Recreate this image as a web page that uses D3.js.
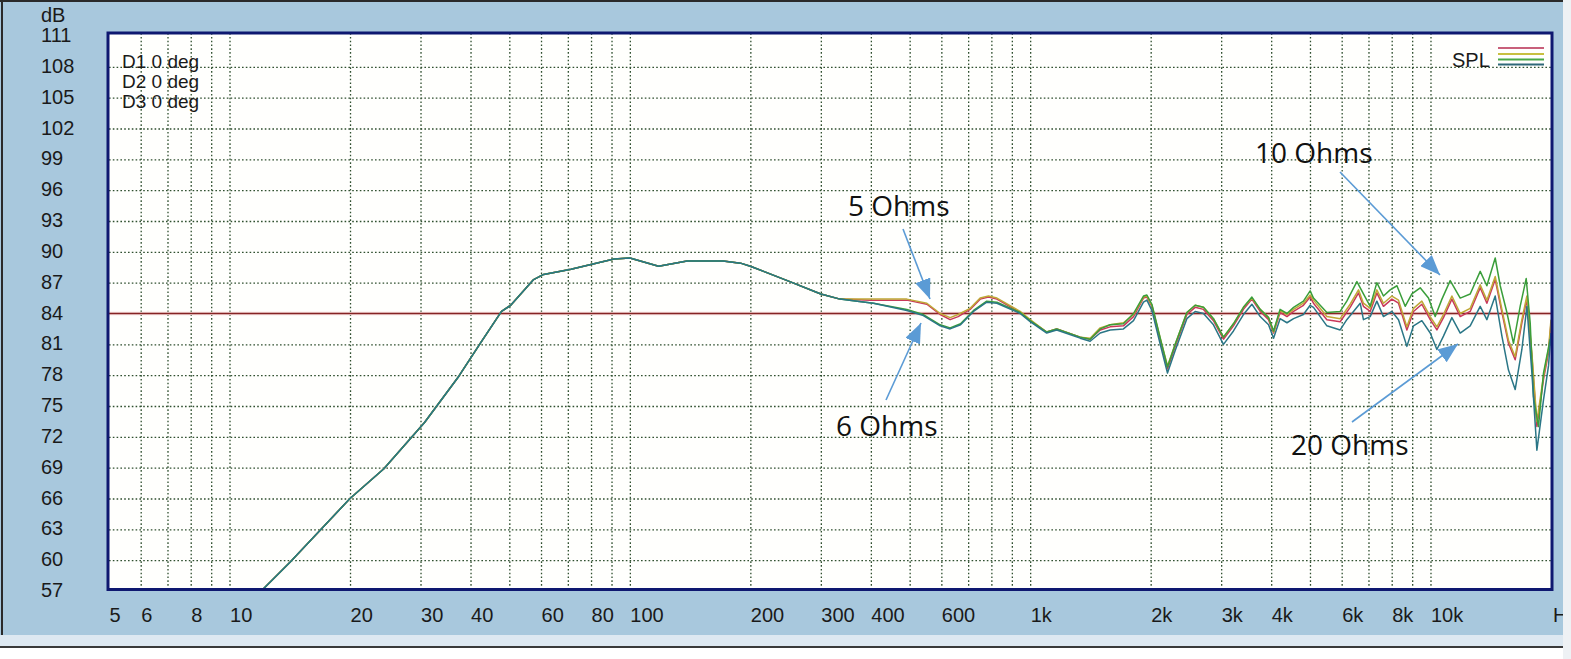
<!DOCTYPE html>
<html><head><meta charset="utf-8">
<script src="https://cdn.jsdelivr.net/npm/d3@7/dist/d3.min.js"></script>
<style>
html,body{margin:0;padding:0;background:#fff;}
svg{display:block;}
</style></head>
<body>
<svg id="c" width="1571" height="659"></svg>
<script>
// ---------- data ----------
const yTicks = [57,60,63,66,69,72,75,78,81,84,87,90,93,96,99,102,105,108,111];
const xGrid = [6,7,8,9,10,20,30,40,50,60,70,80,90,100,200,300,400,500,600,700,800,900,1000,2000,3000,4000,5000,6000,7000,8000,9000,10000];
const xTickValues = [5,6,8,10,20,30,40,60,80,100,200,300,400,600,1000,2000,3000,4000,6000,8000,10000];
const xTickLabels = ["5","6","8","10","20","30","40","60","80","100","200","300","400","600","1k","2k","3k","4k","6k","8k","10k"];
const refLevel = 84;

// common low-frequency part (all curves overlap)
const lowFreq = [5,12,14.2,20,24.3,30.7,37.4,42.3,47.8,50.4,57.5,60.9,71.3,91.3,100,118,139,171,189,200,251,300];
const lowDb   = [57,57,59.85,66.0,68.9,73.4,77.9,81.1,84.2,84.8,87.3,87.8,88.3,89.3,89.4,88.6,89.1,89.1,88.9,88.6,87.1,85.9];

// mid band
const midFreqUpper = [335,400,492,552,596,631,661,708,750,787,826,944,1000,1100,1165,1333];
const midYellow = [85.4,85.4,85.4,85.0,84.0,83.6,83.9,84.5,85.5,85.7,85.5,84.2,83.4,82.2,82.5,81.7];
const midRed    = [85.4,85.3,85.3,84.9,83.9,83.4,83.7,84.4,85.4,85.6,85.4,84.1,83.3,82.2,82.5,81.7];
const midFreqLower = [335,370,406,492,541,596,631,670,722,779,826,944,1000,1100,1165,1333];
const midTeal  = [85.4,85.2,85.0,84.3,83.8,82.8,82.5,82.9,84.2,85.1,85.0,84.0,83.2,82.1,82.4,81.6];
const midGreen = [85.4,85.2,85.0,84.4,83.9,82.9,82.6,83.0,84.3,85.2,85.1,84.1,83.3,82.2,82.5,81.7];

// upper-mid band
const umFreq = [1412,1496,1584,1710,1812,1919,1957,2014,2113,2203,2303,2463,2583,2710,2870,3040,3220,3410,3580,3755,3940,4055,4210,4380,4550,4815,5005];
const umGreen  = [81.5,82.5,82.9,83.0,84.0,85.7,85.8,84.9,81.6,78.8,81.0,84.1,84.8,84.6,83.5,81.7,83.0,84.6,85.6,84.4,83.6,82.3,84.4,84.0,84.6,85.2,86.2];
const umRed    = [81.5,82.4,82.7,82.8,83.7,85.5,85.6,84.7,81.4,78.6,80.8,83.9,84.6,84.4,83.3,81.5,82.8,84.4,85.4,84.2,83.4,82.1,84.1,83.7,84.2,84.8,85.6];
const umYellow = [81.6,82.6,82.9,83.1,83.9,85.6,85.7,84.8,81.6,78.9,81.0,84.1,84.8,84.6,83.5,81.7,83.0,84.6,85.5,84.4,83.6,82.2,84.3,83.9,84.4,85.0,85.8];
const umTeal   = [81.3,82.1,82.4,82.5,83.3,85.1,85.3,84.3,81.0,78.2,80.4,83.5,84.2,84.0,82.9,81.0,82.3,83.9,84.9,83.7,82.9,81.6,83.5,83.1,83.5,83.9,84.8];

// high band
const hfGreenFreq = [5102,5510,5948,6180,6550,6800,7070,7345,7630,7930,8245,8645,8985,9425,9885,10275,10680,11200,11865,12565,13310,13830,14510,14935,15520,16115,16750,17340,17745,18085,18610,19155,19905];
const hfGreen = [85.5,84.1,84.2,85.2,87.1,85.9,84.7,87.0,85.7,86.3,86.7,84.7,85.9,86.5,85.5,83.7,85.4,87.2,85.5,85.9,88.1,86.7,89.4,86.7,84.1,81.1,84.7,87.4,83.1,75.9,73.0,78.2,81.5];
const hfRedFreq = [5102,5510,5948,6300,6610,6800,7070,7345,7630,8010,8320,8730,9070,9515,9985,10375,10775,11310,11865,12565,13310,13830,14510,15080,15660,16275,16915,17410,17920,18440,19155,19715,20000];
const hfRed    = [85.0,83.4,83.2,84.6,86.0,84.7,84.2,86.0,84.7,85.4,85.0,82.4,84.2,84.9,83.4,82.4,83.6,85.4,83.7,84.2,86.5,85.0,87.3,84.1,81.1,79.5,83.1,85.4,79.8,73.0,77.6,80.2,83.1];
const hfYellow = [85.3,83.7,83.5,84.9,86.3,85.0,84.5,86.3,85.0,85.7,85.3,82.7,84.5,85.2,83.7,82.7,83.9,85.7,84.0,84.5,86.8,85.3,87.6,84.4,81.4,79.8,83.4,85.7,80.1,73.5,77.9,80.5,83.4];
const hfTealFreq = [5102,5510,5948,6180,6675,6800,7070,7345,7630,8010,8320,8730,9070,9515,9985,10375,10775,11310,11865,12565,13310,13830,14510,15080,15660,16275,16915,17410,17920,18440,19155,19715,20000];
const hfTeal = [84.6,82.8,82.4,83.4,85.0,83.4,83.7,85.2,83.7,84.2,83.4,80.8,82.8,83.3,82.1,80.5,81.8,83.6,82.1,82.8,84.7,83.4,85.7,81.8,78.5,76.6,80.5,84.7,78.2,70.7,75.6,78.9,82.1];

const legendColors = ["#c8607a","#c8c040","#48a848","#2e6878"];
const noteLabels = ["5 Ohms","6 Ohms","10 Ohms","20 Ohms"];

// ---------- helpers ----------
function zip(f, d){ return f.map((v,i)=>({f:v, db:d[i]})); }
const series = [
  {color:"#c8385a", pts:[...zip(lowFreq,lowDb), ...zip(midFreqUpper,midRed), ...zip(umFreq,umRed), ...zip(hfRedFreq,hfRed)]},
  {color:"#bfa836", pts:[...zip(lowFreq,lowDb), ...zip(midFreqUpper,midYellow), ...zip(umFreq,umYellow), ...zip(hfRedFreq,hfYellow)]},
  {color:"#3a9e3a", pts:[...zip(lowFreq,lowDb), ...zip(midFreqLower,midGreen), ...zip(umFreq,umGreen), ...zip(hfGreenFreq,hfGreen)]},
  {color:"#2a7686", pts:[...zip(lowFreq,lowDb), ...zip(midFreqLower,midTeal), ...zip(umFreq,umTeal), ...zip(hfTealFreq,hfTeal)]}
];

// ---------- layout ----------
const svg = d3.select("#c");
const W = 1571, H = 659;
const PL = 109, PR = 1551, PT = 33, PB = 589.5;
const x = d3.scaleLog().domain([5,20000]).range([PL, PR]);
const y = d3.scaleLinear().domain([57,111]).range([591, 36]);

// background panel
svg.append("rect").attr("x",0).attr("y",0).attr("width",W).attr("height",H).attr("fill","#ffffff");
svg.append("rect").attr("x",0).attr("y",0).attr("width",1563).attr("height",635).attr("fill","#a8c8dd");
svg.append("rect").attr("x",0).attr("y",635).attr("width",1563).attr("height",11).attr("fill","#dde8f1");
svg.append("rect").attr("x",0).attr("y",646).attr("width",1563).attr("height",2).attr("fill","#3a3a3a");
svg.append("rect").attr("x",0).attr("y",0).attr("width",1563).attr("height",2).attr("fill","#2a2a2a");
svg.append("rect").attr("x",1).attr("y",0).attr("width",2).attr("height",635).attr("fill","#2a2a2a");

// plot area
svg.append("rect").attr("x",PL).attr("y",PT).attr("width",PR-PL).attr("height",PB-PT).attr("fill","#fffffd");

svg.append("defs").append("clipPath").attr("id","clip")
  .append("rect").attr("x",PL).attr("y",PT).attr("width",PR-PL).attr("height",PB-PT);

const grid = svg.append("g");
const gridColor = "#2f4f2f";
const yGridAxis = d3.axisLeft(y).tickValues(yTicks.filter(v=>v>57 && v<111)).tickSize(-(PR-PL)).tickFormat("");
const gy = grid.append("g").attr("transform",`translate(${PL},0)`).call(yGridAxis);
gy.select(".domain").remove();
gy.selectAll("line").attr("stroke",gridColor).attr("stroke-width",1.3).attr("stroke-dasharray","1.6,2.2");
const xGridAxis = d3.axisBottom(x).tickValues(xGrid).tickSize(-(PB-PT)).tickFormat("");
const gx = grid.append("g").attr("transform",`translate(0,${PB})`).call(xGridAxis);
gx.select(".domain").remove();
gx.selectAll("line").attr("stroke",gridColor).attr("stroke-width",1.3).attr("stroke-dasharray","1.6,2.2");

// reference line
svg.append("line").attr("x1",PL).attr("x2",PR).attr("y1",y(refLevel)).attr("y2",y(refLevel))
  .attr("stroke","#f6dcdc").attr("stroke-width",3.5);
svg.append("line").attr("x1",PL).attr("x2",PR).attr("y1",y(refLevel)).attr("y2",y(refLevel))
  .attr("stroke","#862424").attr("stroke-width",1.5);

// curves
const line = d3.line().x(d=>x(d.f)).y(d=>y(d.db));
const cg = svg.append("g").attr("clip-path","url(#clip)");
series.forEach(s=>{
  cg.append("path").datum(s.pts).attr("d",line).attr("fill","none")
    .attr("stroke",s.color).attr("stroke-width",1.5).attr("stroke-linejoin","round");
});

// border
svg.append("rect").attr("x",PL-1).attr("y",PT).attr("width",PR-PL+2).attr("height",PB-PT)
  .attr("fill","none").attr("stroke","#0e1870").attr("stroke-width",3);

// axis labels
const axisFont = "'Liberation Sans', Arial, sans-serif";
const yAx = d3.axisLeft(y).tickValues(yTicks).tickSize(0).tickFormat(d=>String(d));
const gyl = svg.append("g").call(yAx);
gyl.select(".domain").remove();
gyl.selectAll("text").attr("x",41).attr("dy",null).attr("y",5.5).attr("text-anchor","start")
  .attr("font-family",axisFont).attr("font-size",20).attr("fill","#1a1a1a");
const xAx = d3.axisBottom(x).tickValues(xTickValues).tickSize(0).tickFormat((d,i)=>xTickLabels[i]);
const gxl = svg.append("g").call(xAx);
gxl.select(".domain").remove();
gxl.selectAll("text").attr("y",622).attr("dy",null).attr("x",0).attr("text-anchor","start")
  .attr("font-family",axisFont).attr("font-size",20).attr("fill","#1a1a1a");

svg.append("text").attr("x",41).attr("y",22).text("dB").attr("font-family",axisFont).attr("font-size",20).attr("fill","#1a1a1a");
svg.append("text").attr("x",1553).attr("y",622).text("H").attr("font-family",axisFont).attr("font-size",20).attr("fill","#1a1a1a");
// right window strip
svg.append("rect").attr("x",1563).attr("y",0).attr("width",8).attr("height",H).attr("fill","#eef1f4");

// data set labels
["D1 0 deg","D2 0 deg","D3 0 deg"].forEach((t,i)=>{
  svg.append("text").attr("x",122).attr("y",68+i*20).text(t)
    .attr("font-family",axisFont).attr("font-size",19).attr("fill","#1a1a1a");
});

// legend
svg.append("text").attr("x",1452).attr("y",67).text("SPL")
  .attr("font-family",axisFont).attr("font-size",20).attr("fill","#1a1a1a");
const legY = [48,54,59.5,64.5];
legendColors.forEach((c,i)=>{
  svg.append("line").attr("x1",1498).attr("x2",1544).attr("y1",legY[i]).attr("y2",legY[i])
    .attr("stroke",c).attr("stroke-width",2);
});

// annotations
const arrowColor = "#5b9bd5";
svg.select("defs").append("marker").attr("id","ah").attr("viewBox","0 0 20 16")
  .attr("refX",20).attr("refY",8).attr("markerWidth",20).attr("markerHeight",16)
  .attr("markerUnits","userSpaceOnUse").attr("orient","auto")
  .append("path").attr("d","M0,0 L20,8 L0,16 Z").attr("fill",arrowColor);

const notes = [
  {t:noteLabels[0], tx:848, ty:216, x1:903, y1:229, x2:930, y2:299},
  {t:noteLabels[1], tx:836, ty:436, x1:886, y1:400, x2:921, y2:323},
  {t:noteLabels[2], tx:1255, ty:163, x1:1340, y1:172, x2:1440, y2:275},
  {t:noteLabels[3], tx:1291, ty:455, x1:1352, y1:422, x2:1458, y2:344}
];
notes.forEach(n=>{
  svg.append("line").attr("x1",n.x1).attr("y1",n.y1).attr("x2",n.x2).attr("y2",n.y2)
    .attr("stroke",arrowColor).attr("stroke-width",1.6).attr("marker-end","url(#ah)");
  svg.append("text").attr("x",n.tx).attr("y",n.ty).text(n.t)
    .attr("font-family","'Open Sans', 'Noto Sans', sans-serif").attr("font-size",28).attr("fill","#111");
});
</script>
</body></html>
